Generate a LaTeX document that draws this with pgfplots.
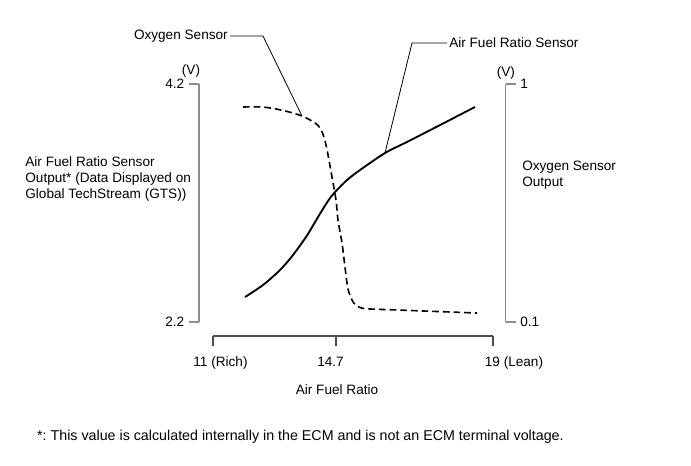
\documentclass[border=0pt]{standalone}
\usepackage{fontspec}
\setmainfont{Liberation Sans}
\usepackage{pgfplots}
\pgfplotsset{compat=1.18}
\newdimen\px \px=0.75pt
\newcommand{\fs}{\fontsize{10.2}{12}\selectfont}
\begin{document}
\frenchspacing
\fs
\begin{tikzpicture}
\useasboundingbox (-213\px,-143\px) rectangle (478\px,322\px);
\begin{axis}[
  at={(0,0)}, anchor=south west,
  scale only axis, width=280\px, height=238\px,
  xmin=11, xmax=19, ymin=2.2, ymax=4.2,
  axis x line*=bottom, axis y line*=left,
  axis x line shift=14\px, axis y line shift=14\px,
  x axis line style={draw=black!70, line width=0.8pt},
  y axis line style={draw=black!45, line width=0.8pt},
  xtick style={draw=black!70, line width=0.8pt},
  ytick style={draw=black!45, line width=0.8pt},
  tick align=outside, major tick length=10\px,
  xtick={11,14.514,19},
  xticklabels={\hspace*{15\px}11 (Rich), 14.7\hspace*{11\px}, \hspace*{42\px}19 (Lean)},
  ytick={2.2,4.2}, yticklabels={2.2,4.2},
  /pgf/number format/assume math mode=true,
  every tick label/.append style={font=\fs},
  xticklabel style={yshift=-6\px},
  clip=false,
]
\addplot[black, line width=1.4pt, smooth] coordinates {
(11.914,2.410) (12.429,2.511) (12.914,2.637) (13.286,2.763) (13.686,2.927)
(14.0,3.082) (14.286,3.217) (14.486,3.292) (14.829,3.393) (15.2,3.477)
(15.914,3.620) (16.543,3.713) (17.486,3.855) (18.486,4.007)};
% leader lines
\addplot[black, line width=0.6pt] coordinates {(11.486,4.603) (12.429,4.603) (13.543,3.931)};
\addplot[black, line width=0.6pt] coordinates {(17.686,4.545) (16.686,4.545) (15.914,3.620)};
\node[anchor=east, inner sep=2\px] at (axis cs:11.486,4.603) {Oxygen Sensor};
\node[anchor=west, inner sep=2\px] at (axis cs:17.686,4.545) {Air Fuel Ratio Sensor};
\node at (axis description cs:-0.0786,1.0546) {(V)};
\node[anchor=west, align=left, inner sep=0pt] at (axis description cs:-0.671,0.601)
  {Air Fuel Ratio Sensor\\Output* (Data Displayed on\\Global TechStream (GTS))};
\node at (axis description cs:0.443,-0.286) {Air Fuel Ratio};
\node[anchor=west, inner sep=0pt, font=\fontsize{10.7}{12}\selectfont] at (axis description cs:-0.629,-0.483)
  {*: This value is calculated internally in the ECM and is not an ECM terminal voltage.};
\end{axis}
\begin{axis}[
  at={(0,0)}, anchor=south west,
  scale only axis, width=280\px, height=238\px,
  xmin=11, xmax=19, ymin=0.1, ymax=1,
  axis x line=none, axis y line*=right,
  axis y line shift=12.5\px,
  y axis line style={draw=black!45, line width=0.8pt},
  ytick style={draw=black!45, line width=0.8pt},
  tick align=outside, major tick length=10\px,
  ytick={0.1,1}, yticklabels={0.1,1},
  /pgf/number format/assume math mode=true,
  every tick label/.append style={font=\fs},
  clip=false,
]
\addplot[black, line width=1.2pt, smooth, dash pattern=on 5pt off 3pt] coordinates {
(11.857,0.913) (12.429,0.913) (13.0,0.900) (13.543,0.879) (13.971,0.847)
(14.143,0.810) (14.257,0.752) (14.4,0.648) (14.514,0.561) (14.571,0.486)
(14.686,0.399) (14.771,0.308) (14.857,0.225) (15.0,0.176) (15.143,0.158)
(15.4,0.150) (16.343,0.145) (18.543,0.134)};
\node at (axis description cs:1.046,1.046) {(V)};
\node[anchor=west, align=left, inner sep=0pt] at (axis description cs:1.1036,0.618)
  {Oxygen Sensor\\Output};
\end{axis}
\end{tikzpicture}
\end{document}
